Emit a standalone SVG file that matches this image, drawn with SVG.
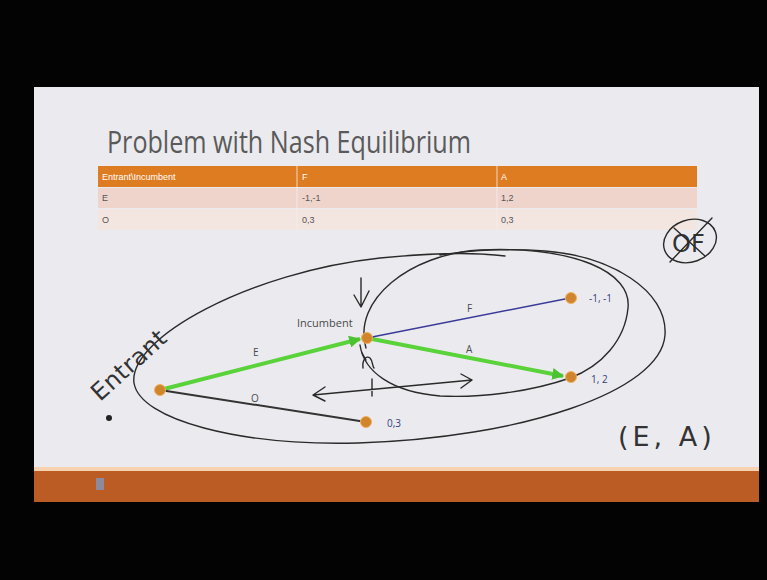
<svg xmlns="http://www.w3.org/2000/svg" width="767" height="580" viewBox="0 0 767 580">
<defs>
<style>
.tbl{font-family:"Liberation Sans",Arial,sans-serif;font-size:9px;fill:#555}
.hdr{font-family:"Liberation Sans",Arial,sans-serif;font-size:9px;fill:#fff}
.lbl{font-family:"Open Sans","Liberation Sans",sans-serif;font-size:10px;fill:#4a4a4a}
.pay{font-family:"Open Sans","Liberation Sans",sans-serif;font-size:10px;fill:#33407a}
.node{fill:#d0842c;stroke:#f0b060;stroke-width:1}
.ink{fill:none;stroke:#2a2a2a;stroke-width:1.4;stroke-linecap:round;stroke-linejoin:round}
.hand{font-family:"DejaVu Sans","Liberation Sans",sans-serif;fill:#333}
</style>
<marker id="ga" viewBox="0 0 10 10" refX="9" refY="5" markerWidth="3" markerHeight="3" orient="auto">
<path d="M0,0 L10,5 L0,10 z" fill="#4cc232"/>
</marker>
</defs>
<rect x="0" y="0" width="767" height="580" fill="#030303"/>
<rect x="34" y="87" width="725" height="384" fill="#ebebef"/>
<rect x="34" y="467" width="725" height="4" fill="#f6d2b0"/>
<rect x="34" y="471" width="725" height="31" fill="#bb5c24"/>
<rect x="96" y="478" width="8" height="12" fill="#8c8a9c"/>

<text x="107" y="153" font-family="'Open Sans','Liberation Sans',sans-serif" font-size="31" fill="#5a5a5a" textLength="364" lengthAdjust="spacingAndGlyphs">Problem with Nash Equilibrium</text>

<g id="table">
<rect x="98" y="166" width="599" height="21" fill="#de7c22"/>
<rect x="98" y="188" width="599" height="20" fill="#efd4cc"/>
<rect x="98" y="209" width="599" height="21" fill="#f3e5e0"/>
<line x1="297" y1="166" x2="297" y2="230" stroke="#f6efec" stroke-width="0.8"/>
<line x1="497" y1="166" x2="497" y2="230" stroke="#f6efec" stroke-width="0.8"/>
<text class="hdr" x="102" y="180">Entrant\Incumbent</text>
<text class="hdr" x="302" y="180">F</text>
<text class="hdr" x="501" y="180">A</text>
<text class="tbl" x="102" y="201">E</text>
<text class="tbl" x="302" y="201">-1,-1</text>
<text class="tbl" x="501" y="201">1,2</text>
<text class="tbl" x="102" y="223">O</text>
<text class="tbl" x="302" y="223">0,3</text>
<text class="tbl" x="501" y="223">0,3</text>
</g>

<!-- hand-drawn ellipses -->
<path class="ink" d="M 440,255 C 480,249 520,249 545,251 C 610,256 668,290 665,335 C 661,392 520,438 358,443 C 240,446 140,420 134,383 C 128,338 250,272 380,258 C 430,253 475,252 505,256"/>
<path class="ink" d="M 366,348 C 352,300 410,254 480,250 C 575,246 632,272 628,308 C 625,340 602,366 570,378 C 530,392 480,398 440,396 C 392,392 364,372 360,345"/>

<g id="connectors">
<line x1="160" y1="390" x2="360" y2="339" stroke="#5ad23a" stroke-width="4" marker-end="url(#ga)"/>
<line x1="367" y1="338" x2="563" y2="376" stroke="#5ad23a" stroke-width="4" marker-end="url(#ga)"/>
<line x1="367" y1="338" x2="570" y2="298" stroke="#3a3a9a" stroke-width="1.5"/>
<line x1="160" y1="390" x2="366" y2="422" stroke="#333" stroke-width="2"/>
<text class="lbl" x="253" y="356">E</text>
<text class="lbl" x="251" y="402">O</text>
<text class="lbl" x="467" y="312">F</text>
<text class="lbl" x="466" y="353">A</text>
</g>

<g id="entrant"><circle class="node" cx="160" cy="390" r="5.5"/></g>
<g id="incumbent"><circle class="node" cx="367" cy="338" r="5.5"/><text x="297" y="327" font-family="'Open Sans','Liberation Sans',sans-serif" font-size="11" fill="#4a4a4a">Incumbent</text></g>
<g id="payoff-f"><circle class="node" cx="571" cy="298" r="5.5"/><text class="pay" x="589" y="302">-1, -1</text></g>
<g id="payoff-a"><circle class="node" cx="571" cy="377" r="5.5"/><text class="pay" x="591" y="383">1, 2</text></g>
<g id="payoff-o"><circle class="node" cx="366" cy="422" r="5.5"/><text class="pay" x="387" y="427">0,3</text></g>

<!-- annotations -->
<path class="ink" d="M 361,278 L 361,307 M 354,295 L 361,307 L 369,291"/>
<path class="ink" d="M 363,368 C 362,360 366,355 370,358 C 373,361 372,366 374,368 M 366,360 L 362,353"/>
<path class="ink" d="M 313,395 L 472,380 M 313,395 L 325,387 M 313,395 L 325,401 M 472,380 L 461,374 M 472,380 L 461,388 M 372,379 L 372,396"/>
<text class="hand" x="0" y="0" font-size="24" transform="translate(100,402) rotate(-42)" letter-spacing="0.5">Entrant</text>
<circle cx="109" cy="418" r="3" fill="#222"/>
<text class="hand" x="618" y="446" font-size="27" letter-spacing="4">(E, A)</text>
<g>
<ellipse class="ink" cx="690" cy="241" rx="27" ry="21" transform="rotate(-20 690 241)"/>
<text class="hand" x="672" y="252" font-size="24">OF</text>
<path class="ink" d="M 670,262 L 712,218 M 674,228 L 705,256"/>
</g>
</svg>
